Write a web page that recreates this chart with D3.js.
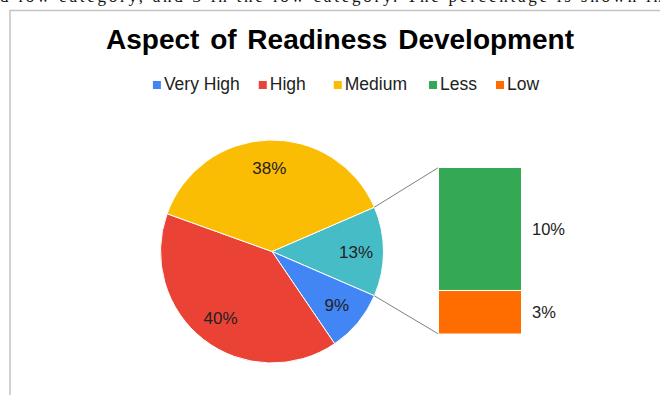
<!DOCTYPE html>
<html>
<head>
<meta charset="utf-8">
<script src="https://cdn.jsdelivr.net/npm/d3@7"></script>
<style>
  html, body { margin: 0; padding: 0; background: #fff; overflow: hidden; }
  svg { display: block; }
</style>
</head>
<body>
<svg id="chart" width="660" height="395"></svg>
<script>
// ---- data ----
const titleText = "Aspect of Readiness Development";
const pageText = "d low category, and 3 in the low category. The percentage is shown in";
const pieCategories = ["Very High", "High", "Medium"];
const pieValues = [9, 40, 38];
const barCategories = ["Less", "Low"];
const barValues = [9.6, 3.4];
const legendCategories = ["Very High", "High", "Medium", "Less", "Low"];
const categoryColors = ["#4285F4", "#EA4335", "#FBBC04", "#34A853", "#FF6D01"];
const otherColor = "#46BDC6";

// ---- setup ----
const svg = d3.select("#chart");
const font = "Arial, 'Liberation Sans', sans-serif";
const color = d3.scaleOrdinal().domain(legendCategories).range(categoryColors);

// page fragment text at top (cut off in the source image)
svg.append("text")
  .attr("x", 0).attr("y", 2)
  .attr("font-family", "'Times New Roman', 'Liberation Serif', serif")
  .attr("font-size", 17)
  .attr("textLength", 662).attr("lengthAdjust", "spacing")
  .attr("fill", "#111")
  .text(pageText);

// chart border (top + left visible)
svg.append("path")
  .attr("d", "M10,395 L10,10.5 L660,10.5")
  .attr("fill", "none").attr("stroke", "#c4c4c4").attr("stroke-width", 1.5);

// title
svg.append("text")
  .attr("x", 340).attr("y", 49)
  .attr("text-anchor", "middle")
  .attr("font-family", font).attr("font-weight", "bold")
  .attr("font-size", 28).attr("word-spacing", 3)
  .attr("fill", "#000")
  .text(titleText);

// legend
const legend = svg.append("g").attr("font-family", font).attr("font-size", 17.5);
const items = legend.selectAll("g").data(legendCategories).join("g");
items.append("rect").attr("width", 8).attr("height", 8).attr("y", -8.5)
  .attr("fill", d => color(d));
items.append("text").attr("x", 11).attr("y", 0).attr("fill", "#222").text(d => d);
let lx = 0;
const gaps = [19, 28, 22, 19, 0];
items.each(function(d, i) {
  const w = this.querySelector("text").getComputedTextLength() + 11;
  d3.select(this).attr("transform", `translate(${lx},0)`);
  lx += w + gaps[i];
});
legend.attr("transform", `translate(${346 - lx / 2}, 89.5)`);

// ---- pie ----
const cx = 272, cy = 251.5, r = 111.5;
const otherValue = d3.sum(barValues);
const pieTotal = d3.sum(pieValues) + otherValue;
const pieData = [{ name: "Other", value: otherValue }]
  .concat(pieCategories.map((c, i) => ({ name: c, value: pieValues[i] })));
const startA = Math.PI / 2 - (otherValue / pieTotal) * Math.PI;
const pie = d3.pie().sort(null).value(d => d.value)
  .startAngle(startA).endAngle(startA + 2 * Math.PI);
const arcs = pie(pieData);
const arc = d3.arc().innerRadius(0).outerRadius(r);
const labelArc = d3.arc().innerRadius(84).outerRadius(84);

const pg = svg.append("g").attr("transform", `translate(${cx},${cy})`);
pg.selectAll("path").data(arcs).join("path")
  .attr("d", arc)
  .attr("fill", d => d.data.name === "Other" ? otherColor : color(d.data.name))
  .attr("stroke", "#fff").attr("stroke-width", 1);

pg.selectAll("text").data(arcs).join("text")
  .attr("transform", d => `translate(${labelArc.centroid(d)})`)
  .attr("text-anchor", "middle").attr("dy", "0.36em")
  .attr("font-family", font).attr("font-size", 17).attr("fill", "#222")
  .text(d => Math.round(d.data.value / pieTotal * 100) + "%");

// ---- bar (stack of the "Other" slice) ----
const barX = 438.5, barW = 83;
const y = d3.scaleLinear().domain([0, otherValue]).range([334, 167.5]);
const stackOrdered = [];
let acc = 0;
[...barValues.keys()].reverse().forEach(i => {
  stackOrdered.push({ name: barCategories[i], value: barValues[i], y0: acc, y1: acc + barValues[i] });
  acc += barValues[i];
});

// connectors
const otherArc = arcs[0];
const p1 = [cx + r * Math.sin(otherArc.startAngle), cy - r * Math.cos(otherArc.startAngle)];
const p2 = [cx + r * Math.sin(otherArc.endAngle), cy - r * Math.cos(otherArc.endAngle)];
svg.append("line").attr("x1", p1[0]).attr("y1", p1[1]).attr("x2", barX).attr("y2", y(otherValue))
  .attr("stroke", "#7f7f7f").attr("stroke-width", 1);
svg.append("line").attr("x1", p2[0]).attr("y1", p2[1]).attr("x2", barX).attr("y2", y(0))
  .attr("stroke", "#7f7f7f").attr("stroke-width", 1);

const bg = svg.append("g");
bg.selectAll("rect").data(stackOrdered).join("rect")
  .attr("x", barX).attr("width", barW)
  .attr("y", d => y(d.y1)).attr("height", d => y(d.y0) - y(d.y1))
  .attr("fill", d => color(d.name))
  .attr("stroke", "#fff").attr("stroke-width", 1);

bg.selectAll("text").data(stackOrdered).join("text")
  .attr("x", 532).attr("y", d => (y(d.y0) + y(d.y1)) / 2)
  .attr("dy", "0.36em")
  .attr("font-family", font).attr("font-size", 16.5).attr("fill", "#222")
  .text(d => Math.round(d.value / pieTotal * 100) + "%");
</script>
</body>
</html>
